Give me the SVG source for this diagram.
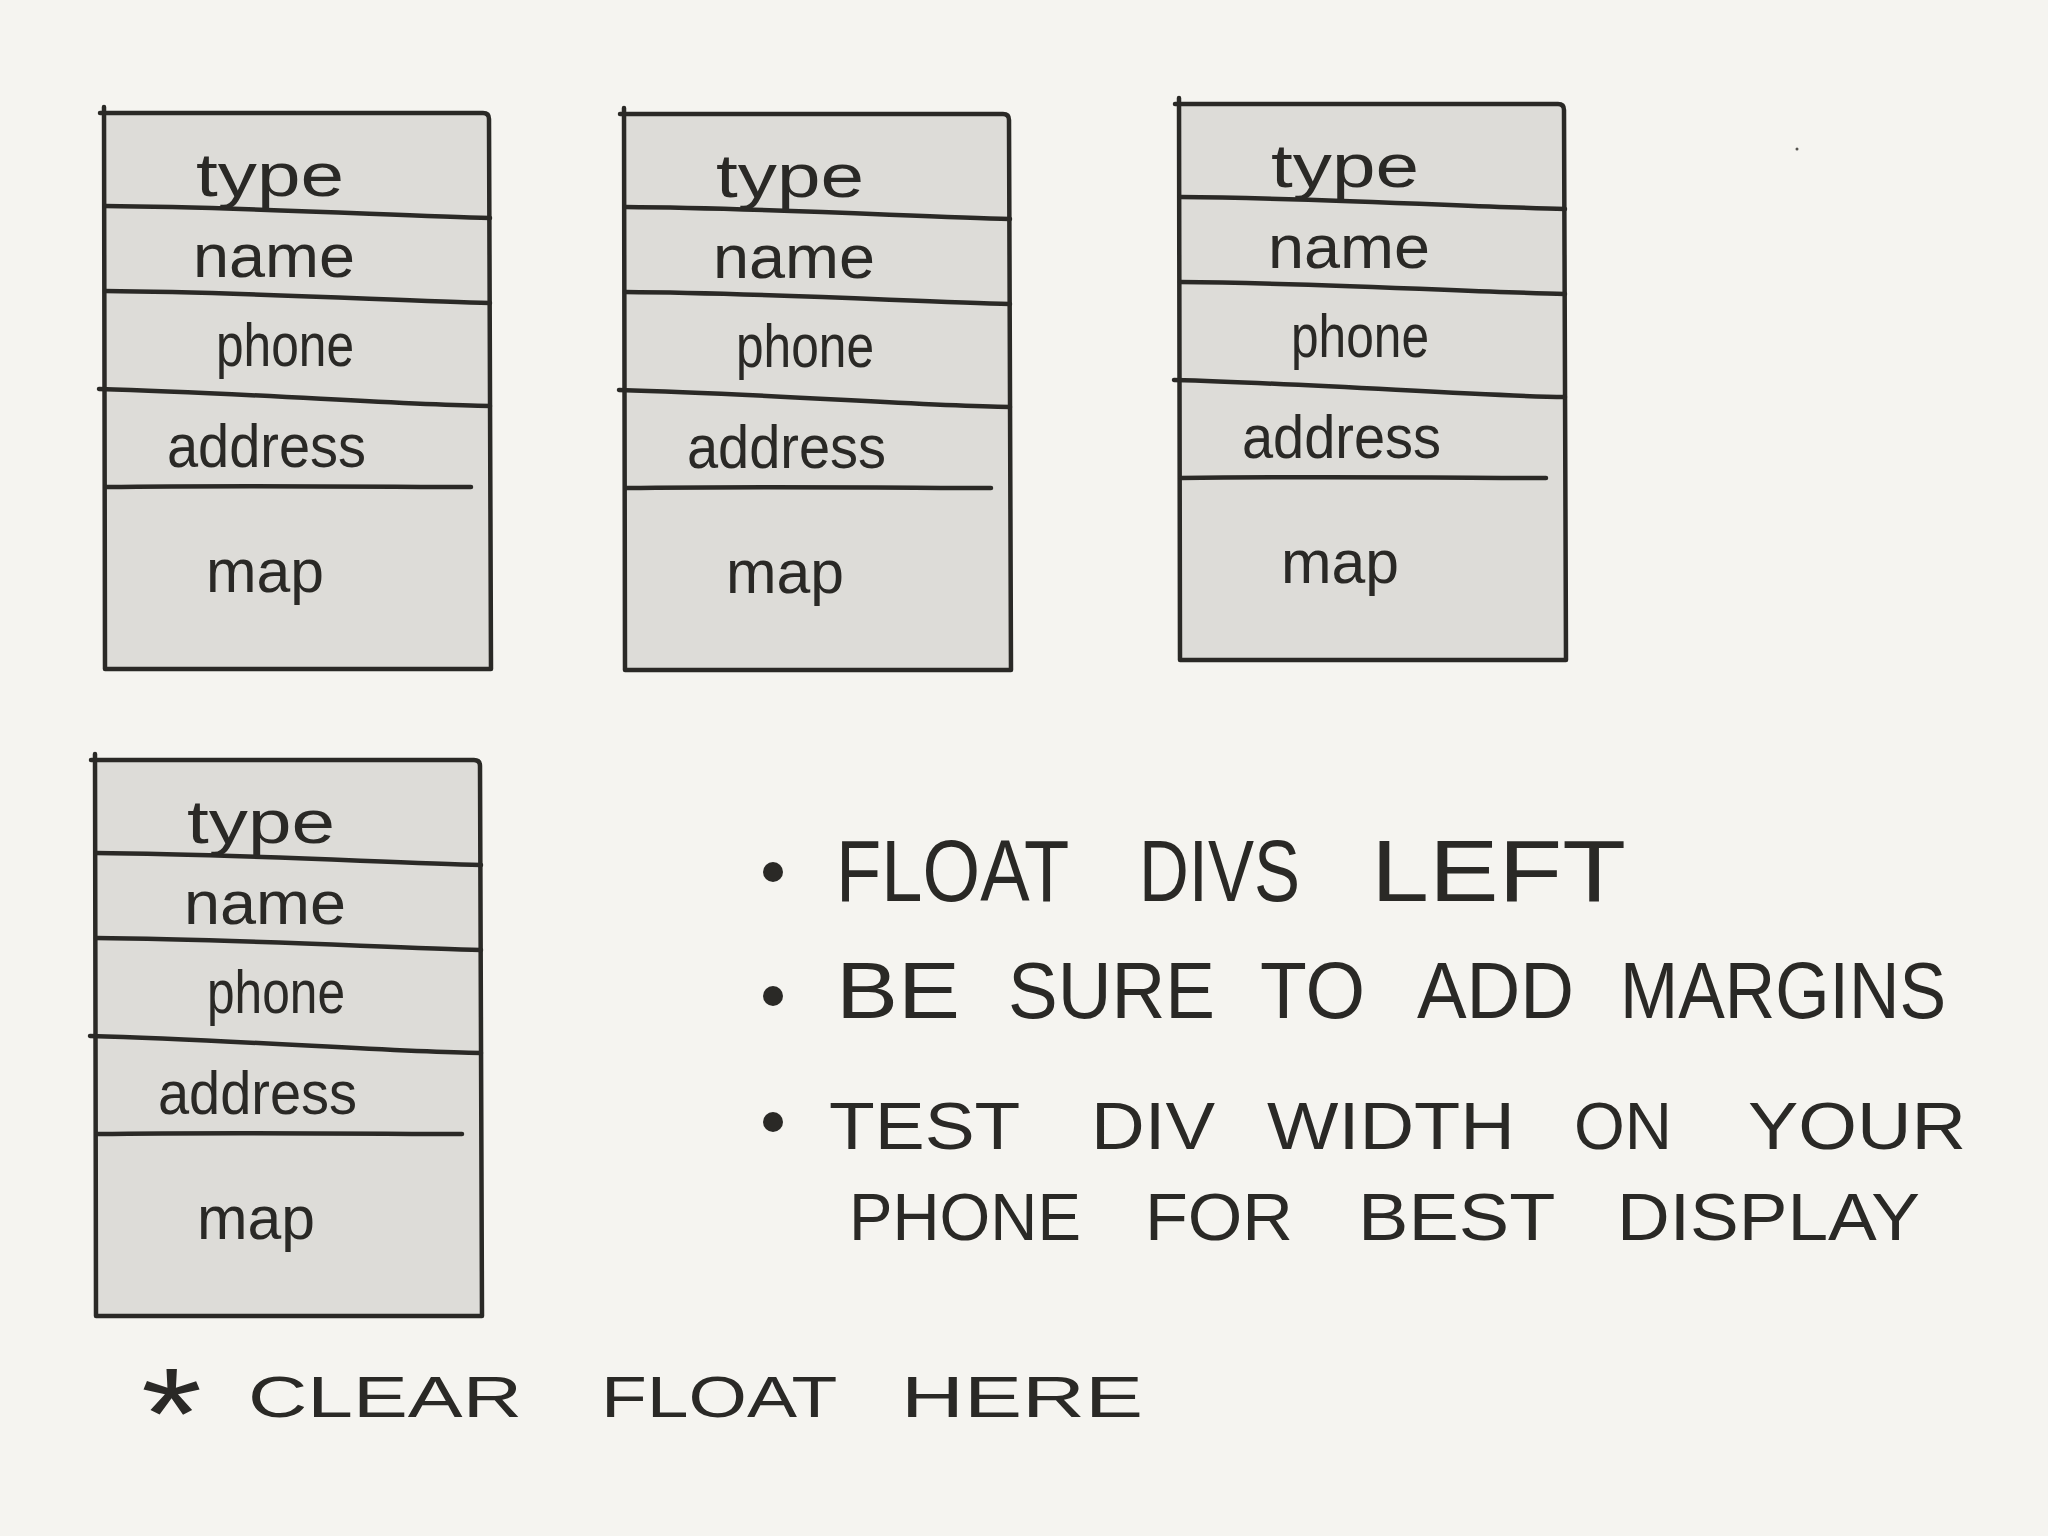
<svg xmlns="http://www.w3.org/2000/svg" width="2048" height="1536" viewBox="0 0 2048 1536">
<style>
.bg{fill:#f5f4f0}
.fill{fill:#dddcd8;stroke:none}
.ln{fill:none;stroke:#2a2926;stroke-width:4.5;stroke-linecap:round;stroke-linejoin:round}
.lbl{font-family:"Liberation Sans","DejaVu Sans",sans-serif;font-size:62px;fill:#2a2926}
.note{font-family:"Liberation Sans","DejaVu Sans",sans-serif;fill:#2a2926}
.dot{fill:#2a2926}
</style>
<rect class="bg" x="0" y="0" width="2048" height="1536"/>
<circle cx="1797" cy="149" r="1.5" fill="#55534f"/>

<g id="card1">
  <polygon class="fill" points="104,113 490,113 491,669 105,669"/>
  <path class="ln" d="M104,107 L105,669 L491,669 L489,119 Q489,113 483,113 L100,113"/>
  <path class="ln" d="M105,206 C250,207 400,216 490,218"/>
  <path class="ln" d="M105,291 C250,292 400,301 490,303"/>
  <path class="ln" d="M99,389 C250,393 400,405 490,406"/>
  <path class="ln" d="M106,487 C250,485 400,487 471,487"/>
  <text class="lbl" x="196" y="196" textLength="148" lengthAdjust="spacingAndGlyphs">type</text>
  <text class="lbl" x="193" y="277" textLength="162" lengthAdjust="spacingAndGlyphs">name</text>
  <text class="lbl" x="216" y="366" textLength="138" lengthAdjust="spacingAndGlyphs">phone</text>
  <text class="lbl" x="167" y="467" textLength="199" lengthAdjust="spacingAndGlyphs">address</text>
  <text class="lbl" x="206" y="592" textLength="118" lengthAdjust="spacingAndGlyphs">map</text>
</g>

<g id="card2" transform="translate(520,1)">
  <polygon class="fill" points="104,113 490,113 491,669 105,669"/>
  <path class="ln" d="M104,107 L105,669 L491,669 L489,119 Q489,113 483,113 L100,113"/>
  <path class="ln" d="M105,206 C250,207 400,216 490,218"/>
  <path class="ln" d="M105,291 C250,292 400,301 490,303"/>
  <path class="ln" d="M99,389 C250,393 400,405 490,406"/>
  <path class="ln" d="M106,487 C250,485 400,487 471,487"/>
  <text class="lbl" x="196" y="196" textLength="148" lengthAdjust="spacingAndGlyphs">type</text>
  <text class="lbl" x="193" y="277" textLength="162" lengthAdjust="spacingAndGlyphs">name</text>
  <text class="lbl" x="216" y="366" textLength="138" lengthAdjust="spacingAndGlyphs">phone</text>
  <text class="lbl" x="167" y="467" textLength="199" lengthAdjust="spacingAndGlyphs">address</text>
  <text class="lbl" x="206" y="592" textLength="118" lengthAdjust="spacingAndGlyphs">map</text>
</g>

<g id="card3" transform="translate(1075,-9)">
  <polygon class="fill" points="104,113 490,113 491,669 105,669"/>
  <path class="ln" d="M104,107 L105,669 L491,669 L489,119 Q489,113 483,113 L100,113"/>
  <path class="ln" d="M105,206 C250,207 400,216 490,218"/>
  <path class="ln" d="M105,291 C250,292 400,301 490,303"/>
  <path class="ln" d="M99,389 C250,393 400,405 490,406"/>
  <path class="ln" d="M106,487 C250,485 400,487 471,487"/>
  <text class="lbl" x="196" y="196" textLength="148" lengthAdjust="spacingAndGlyphs">type</text>
  <text class="lbl" x="193" y="277" textLength="162" lengthAdjust="spacingAndGlyphs">name</text>
  <text class="lbl" x="216" y="366" textLength="138" lengthAdjust="spacingAndGlyphs">phone</text>
  <text class="lbl" x="167" y="467" textLength="199" lengthAdjust="spacingAndGlyphs">address</text>
  <text class="lbl" x="206" y="592" textLength="118" lengthAdjust="spacingAndGlyphs">map</text>
</g>

<g id="card4" transform="translate(-9,647)">
  <polygon class="fill" points="104,113 490,113 491,669 105,669"/>
  <path class="ln" d="M104,107 L105,669 L491,669 L489,119 Q489,113 483,113 L100,113"/>
  <path class="ln" d="M105,206 C250,207 400,216 490,218"/>
  <path class="ln" d="M105,291 C250,292 400,301 490,303"/>
  <path class="ln" d="M99,389 C250,393 400,405 490,406"/>
  <path class="ln" d="M106,487 C250,485 400,487 471,487"/>
  <text class="lbl" x="196" y="196" textLength="148" lengthAdjust="spacingAndGlyphs">type</text>
  <text class="lbl" x="193" y="277" textLength="162" lengthAdjust="spacingAndGlyphs">name</text>
  <text class="lbl" x="216" y="366" textLength="138" lengthAdjust="spacingAndGlyphs">phone</text>
  <text class="lbl" x="167" y="467" textLength="199" lengthAdjust="spacingAndGlyphs">address</text>
  <text class="lbl" x="206" y="592" textLength="118" lengthAdjust="spacingAndGlyphs">map</text>
</g>

<g id="notes">
  <circle class="dot" cx="773" cy="872" r="10"/>
  <circle class="dot" cx="773" cy="996" r="10"/>
  <circle class="dot" cx="773" cy="1122" r="10"/>
  <text class="note" font-size="88" y="901"><tspan x="836" textLength="232" lengthAdjust="spacingAndGlyphs">FLOAT</tspan> <tspan x="1139" textLength="161" lengthAdjust="spacingAndGlyphs">DIVS</tspan> <tspan x="1371" textLength="255" lengthAdjust="spacingAndGlyphs">LEFT</tspan></text>
  <text class="note" font-size="80" y="1018"><tspan x="836" textLength="124" lengthAdjust="spacingAndGlyphs">BE</tspan> <tspan x="1008" textLength="207" lengthAdjust="spacingAndGlyphs">SURE</tspan> <tspan x="1260" textLength="105" lengthAdjust="spacingAndGlyphs">TO</tspan> <tspan x="1417" textLength="157" lengthAdjust="spacingAndGlyphs">ADD</tspan> <tspan x="1620" textLength="326" lengthAdjust="spacingAndGlyphs">MARGINS</tspan></text>
  <text class="note" font-size="66" y="1149"><tspan x="829" textLength="190" lengthAdjust="spacingAndGlyphs">TEST</tspan> <tspan x="1091" textLength="124" lengthAdjust="spacingAndGlyphs">DIV</tspan> <tspan x="1267" textLength="248" lengthAdjust="spacingAndGlyphs">WIDTH</tspan> <tspan x="1574" textLength="98" lengthAdjust="spacingAndGlyphs">ON</tspan> <tspan x="1748" textLength="218" lengthAdjust="spacingAndGlyphs">YOUR</tspan></text>
  <text class="note" font-size="66" y="1240"><tspan x="849" textLength="232" lengthAdjust="spacingAndGlyphs">PHONE</tspan> <tspan x="1145" textLength="148" lengthAdjust="spacingAndGlyphs">FOR</tspan> <tspan x="1358" textLength="196" lengthAdjust="spacingAndGlyphs">BEST</tspan> <tspan x="1617" textLength="303" lengthAdjust="spacingAndGlyphs">DISPLAY</tspan></text>
  <text class="note" font-size="58" y="1417"><tspan font-size="130" dy="42" x="141" textLength="61" lengthAdjust="spacingAndGlyphs">*</tspan> <tspan dy="-42" x="248" textLength="274" lengthAdjust="spacingAndGlyphs">CLEAR</tspan> <tspan x="601" textLength="235" lengthAdjust="spacingAndGlyphs">FLOAT</tspan> <tspan x="901" textLength="242" lengthAdjust="spacingAndGlyphs">HERE</tspan></text>
</g>
</svg>
